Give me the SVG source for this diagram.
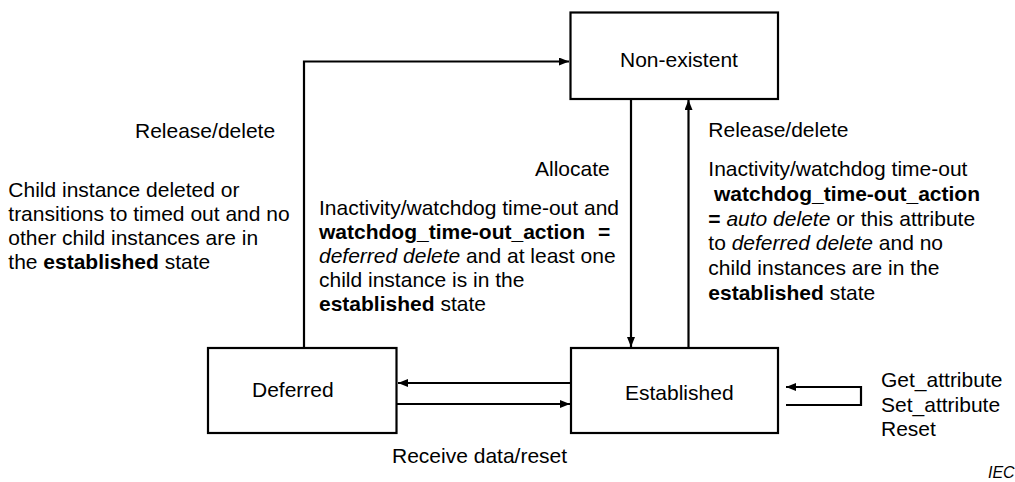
<svg xmlns="http://www.w3.org/2000/svg" width="1015" height="482" viewBox="0 0 1015 482">
<style>
text{font-family:"Liberation Sans",Arial,sans-serif;font-size:21px;fill:#000}
.b{font-weight:bold}
.i{font-style:italic}
.box{fill:#fff;stroke:#000;stroke-width:2.2}
.c{fill:none;stroke:#000;stroke-width:2.2}
</style>
<defs>
<marker id="ah" markerUnits="userSpaceOnUse" markerWidth="11" markerHeight="9" refX="10" refY="4" orient="auto">
<path d="M0,0 L10,4 L0,8 z" fill="#000"/>
</marker>
</defs>
<rect width="1015" height="482" fill="#fff"/>
<g id="connectors">
<path class="c" d="M304,348 V61.5 H569" marker-end="url(#ah)"/>
<path class="c" d="M631,99 V347" marker-end="url(#ah)"/>
<path class="c" d="M688.5,348 V100" marker-end="url(#ah)"/>
<path class="c" d="M571,383 H398" marker-end="url(#ah)"/>
<path class="c" d="M397,404 H570" marker-end="url(#ah)"/>
<path class="c" d="M786,405 H861 V387 H786" marker-end="url(#ah)"/>
</g>
<g id="node-nonexistent">
<rect class="box" x="570.5" y="12.5" width="207.5" height="86.5"/>
<text x="620" y="66.5">Non-existent</text>
</g>
<g id="node-deferred">
<rect class="box" x="208" y="348" width="188.5" height="85"/>
<text x="252" y="396.7">Deferred</text>
</g>
<g id="node-established">
<rect class="box" x="571" y="348" width="207" height="85"/>
<text x="625" y="400">Established</text>
</g>
<g id="labels">
<text x="135" y="137.5">Release/delete</text>
<text x="8.3" y="196.7">Child instance deleted or</text>
<text x="8.3" y="221">transitions to timed out and no</text>
<text x="8.3" y="245">other child instances are in</text>
<text x="8.3" y="269.3">the <tspan class="b">established</tspan> state</text>
<text x="535" y="175.7">Allocate</text>
<text x="319" y="214.5">Inactivity/watchdog time-out and</text>
<text x="319" y="238.5" class="b">watchdog_time-out_action<tspan x="598">=</tspan></text>
<text x="319" y="262.7"><tspan class="i">deferred delete</tspan> and at least one</text>
<text x="319" y="287">child instance is in the</text>
<text x="319" y="311"><tspan class="b">established</tspan> state</text>
<text x="708.3" y="137.3">Release/delete</text>
<text x="708.3" y="175.8">Inactivity/watchdog time-out</text>
<text x="714" y="200.7" class="b">watchdog_time-out_action</text>
<text x="708.3" y="225.6"><tspan class="b">=</tspan> <tspan class="i">auto delete</tspan> or this attribute</text>
<text x="708.3" y="250.4">to <tspan class="i">deferred delete</tspan> and no</text>
<text x="708.3" y="275.2">child instances are in the</text>
<text x="708.3" y="300"><tspan class="b">established</tspan> state</text>
<text x="392" y="463.3">Receive data/reset</text>
<text x="881" y="386.7">Get_attribute</text>
<text x="881" y="411.5">Set_attribute</text>
<text x="881" y="435.5">Reset</text>
<text x="988" y="478" class="i" style="font-size:16px">IEC</text>
</g>
</svg>
